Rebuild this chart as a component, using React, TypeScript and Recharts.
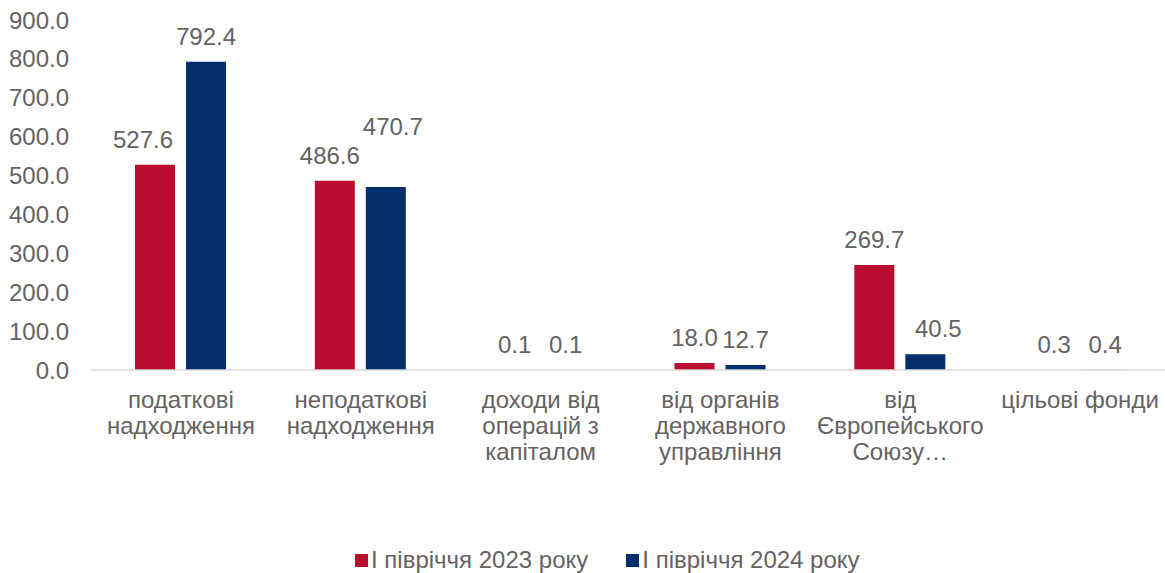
import { BarChart, Bar, XAxis, YAxis, LabelList } from 'recharts'

const categories = [
  ['податкові', 'надходження'],
  ['неподаткові', 'надходження'],
  ['доходи від', 'операцій з', 'капіталом'],
  ['від органів', 'державного', 'управління'],
  ['від', 'Європейського', 'Союзу…'],
  ['цільові фонди'],
]
const h1_2023 = [527.6, 486.6, 0.1, 18.0, 269.7, 0.3]
const h1_2024 = [792.4, 470.7, 0.1, 12.7, 40.5, 0.4]
const yTicks = [0, 100, 200, 300, 400, 500, 600, 700, 800, 900]

const RED = '#BA0C2F'
const NAVY = '#002F6C'
const TEXT = '#666262'
const FONT = '"Liberation Sans", Arial, sans-serif'
const FS = 24

const data = categories.map((lines, i) => ({
  name: lines.join(' '),
  y2023: h1_2023[i],
  y2024: h1_2024[i],
}))

// the source nudged a few labels sideways / up by hand so they don't collide
const shift2023: Record<number, [number, number]> = { 0: [-12, 0], 1: [-5, 0] }
const shift2024: Record<number, [number, number]> = { 1: [7, -35], 4: [13, 0] }

function CategoryTick({ x, y, index }: { x: number; y: number; index: number }) {
  const lines = categories[index] ?? []
  return (
    <text x={x} y={y} textAnchor="middle" fill={TEXT} fontSize={FS} fontFamily={FONT}>
      {lines.map((line, i) => (
        <tspan key={i} x={x} dy={i === 0 ? 36 : 26}>
          {line}
        </tspan>
      ))}
    </text>
  )
}

const fmt = (v: number) => v.toFixed(1)

function makeLabel(shift: Record<number, [number, number]>) {
  return (props: any) => {
    const { x, y, width, value, index } = props
    const [dx, dy] = shift[index] ?? [0, 0]
    return (
      <text
        x={x + width / 2 + dx}
        y={y - 17 + dy}
        textAnchor="middle"
        fill={TEXT}
        fontSize={FS}
        fontFamily={FONT}
      >
        {fmt(Number(value))}
      </text>
    )
  }
}

export default function App() {
  return (
    <div style={{ position: 'absolute', left: 0, top: 0, width: 1165, height: 573, overflow: 'hidden', background: '#fff' }}>
      <BarChart
        width={1172}
        height={573}
        data={data}
        margin={{ top: 20, right: 2, bottom: 0, left: 0 }}
        barSize={40}
        barGap={11}
      >
        <XAxis
          dataKey="name"
          height={203}
          interval={0}
          tickLine={false}
          tickSize={0}
          axisLine={{ stroke: '#d9d9d9', strokeWidth: 1.5 }}
          tick={(props: any) => <CategoryTick {...props} />}
        />
        <YAxis
          width={91}
          domain={[0, 900]}
          ticks={yTicks}
          interval={0}
          axisLine={false}
          tickLine={false}
          tickSize={0}
          tickMargin={22}
          tickFormatter={fmt}
          tick={{ fill: TEXT, fontSize: FS, fontFamily: FONT }}
        />
        <Bar dataKey="y2023" fill={RED} isAnimationActive={false}>
          <LabelList dataKey="y2023" content={makeLabel(shift2023)} />
        </Bar>
        <Bar dataKey="y2024" fill={NAVY} isAnimationActive={false}>
          <LabelList dataKey="y2024" content={makeLabel(shift2024)} />
        </Bar>
      </BarChart>
      {/* legend sits under the axis labels, offset left of the plot centre like the source */}
      <div
        style={{
          position: 'absolute',
          top: 546,
          left: 355,
          display: 'flex',
          alignItems: 'center',
          fontFamily: FONT,
          fontSize: FS,
          color: TEXT,
          whiteSpace: 'nowrap',
        }}
      >
        <span style={{ width: 13, height: 13, background: RED, display: 'inline-block', marginRight: 3 }} />
        <span style={{ marginRight: 38 }}>І півріччя 2023 року</span>
        <span style={{ width: 13, height: 13, background: NAVY, display: 'inline-block', marginRight: 3 }} />
        <span>І півріччя 2024 року</span>
      </div>
    </div>
  )
}
